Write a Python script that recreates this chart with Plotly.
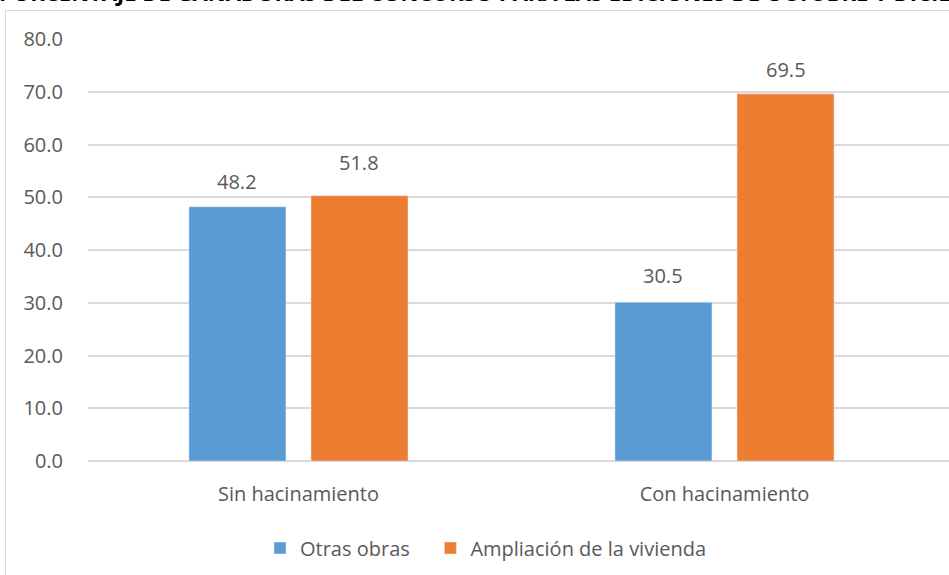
import plotly.graph_objects as go

categories = ["Sin hacinamiento", "Con hacinamiento"]
series_names = ["Otras obras", "Ampliación de la vivienda"]
otras_obras = [48.2, 30.1]
ampliacion = [50.3, 69.6]
otras_labels = [48.2, 30.5]
ampliacion_labels = [51.8, 69.5]
y_ticks = [0, 10, 20, 30, 40, 50, 60, 70, 80]
title_text = "PORCENTAJE DE GANADORAS DEL CONCURSO PARA LAS EDICIONES DE OCTUBRE Y DICIEMBRE"

BLUE = "#5B9BD5"
ORANGE = "#ED7D31"
TXT = "#595959"
GRID = "#D9D9D9"
FONT = "Open Sans"

W, H = 949, 575
ML, MT, MR, MB = 88, 39, 0, 114
PW, PH = W - ML - MR, H - MT - MB

BARGAP = 0.427
GROUPGAP = 0.205

fig = go.Figure()
fig.add_trace(go.Bar(name=series_names[0] + "\u00a0\u00a0\u00a0", x=[0, 1], y=otras_obras,
                     marker_color=BLUE))
fig.add_trace(go.Bar(name=series_names[1], x=[0, 1], y=ampliacion, marker_color=ORANGE))

# data labels (positioned at labelled value, offset above)
slot = (1 - BARGAP) / 2
for i in range(2):
    for vals, off in ((otras_labels, -slot / 2), (ampliacion_labels, slot / 2)):
        fig.add_annotation(x=i + off, y=vals[i], xref="x", yref="y",
                           text=f"{vals[i]:.1f}", showarrow=False,
                           yshift=25, font=dict(family=FONT, size=20, color=TXT))

def px_x(p):
    return (p - ML) / PW

def px_y(p):
    return (H - MB - p) / PH

# chart frame
fig.add_shape(type="rect", xref="paper", yref="paper",
              x0=px_x(5.5), x1=px_x(960), y0=px_y(590), y1=px_y(10.5),
              line=dict(color=GRID, width=1), fillcolor="rgba(0,0,0,0)", layer="below")

# clipped title
fig.add_annotation(xref="paper", yref="paper", x=px_x(-3), y=px_y(9),
                   xanchor="left", yanchor="bottom", text="<b>" + title_text + "</b>",
                   showarrow=False, font=dict(family=FONT, size=22, color="#000000"))

fig.update_layout(
    width=W, height=H,
    margin=dict(l=ML, r=MR, t=MT, b=MB, pad=0),
    paper_bgcolor="white", plot_bgcolor="white",
    barmode="group", bargap=BARGAP, bargroupgap=GROUPGAP,
    font=dict(family=FONT, size=20, color=TXT),
    showlegend=True,
    legend=dict(orientation="h", x=px_x(486), y=px_y(548), xanchor="center", yanchor="middle",
                font=dict(family=FONT, size=20, color=TXT), itemwidth=30,
                traceorder="normal"),
    xaxis=dict(range=[-0.494, 1.527], tickvals=[0, 1], ticktext=categories,
               showgrid=False, zeroline=False, showline=False, ticks="",
               ticklabelstandoff=19, tickfont=dict(family=FONT, size=20, color=TXT)),
    yaxis=dict(range=[0, 80], tickvals=y_ticks, tickformat=".1f",
               showgrid=True, gridcolor=GRID, gridwidth=1.5,
               zeroline=True, zerolinecolor=GRID, zerolinewidth=1.5,
               showline=False, ticks="", ticklabelstandoff=24,
               tickfont=dict(family=FONT, size=20, color=TXT)),
)

fig.write_html("out.html", config={"displayModeBar": False},
               post_script="document.body.style.margin='0';document.body.style.overflow='hidden';")
